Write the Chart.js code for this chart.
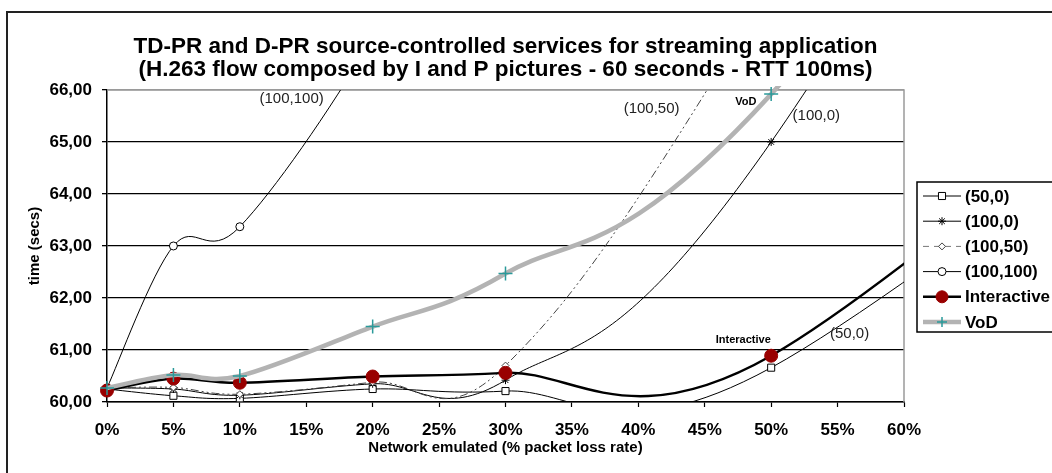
<!DOCTYPE html>
<html>
<head>
<meta charset="utf-8">
<script src="https://cdn.jsdelivr.net/npm/chart.js@4.4.1/dist/chart.umd.min.js"></script>
<style>
html, body { margin: 0; padding: 0; background: #fff; }
#wrap { position: relative; width: 1052px; height: 473px; }
</style>
</head>
<body>
<div id="wrap"><canvas id="lossChart"></canvas></div>
<script>
// packet loss rates (%) - the last point lies off the axis, only its curve is seen
const lossRate = [0, 5, 10, 20, 30, 50, 100];
const interactiveLoss = [0, 5, 10, 20, 30, 50, 95];

const pr50_0 = [60.25, 60.12, 60.07, 60.25, 60.21, 60.66, 70];
const pr100_0 = [60.27, 60.25, 60.13, 60.35, 60.42, 65.00, 86];
const pr100_50 = [60.27, 60.28, 60.15, 60.38, 60.70, 68.0, 90];
const pr100_100 = [60.27, 63.00, 63.37, 67.0, 72, 80];
const interactive = [60.22, 60.45, 60.37, 60.49, 60.56, 60.89, 70];
const vod = [60.27, 60.52, 60.50, 61.45, 62.47, 65.92, 82];

const seriesNames = ['(50,0)', '(100,0)', '(100,50)', '(100,100)', 'Interactive', 'VoD'];
const xTickLabels = ['0%', '5%', '10%', '15%', '20%', '25%', '30%', '35%', '40%', '45%', '50%', '55%', '60%'];
const yTickLabels = ['60,00', '61,00', '62,00', '63,00', '64,00', '65,00', '66,00'];
const titleLines = [
    'TD-PR and D-PR source-controlled services for streaming application',
    '(H.263 flow composed by I and P pictures - 60 seconds - RTT 100ms)'
];

const FONT = "'Liberation Sans', Arial, sans-serif";
Chart.defaults.font.family = FONT;
Chart.defaults.color = '#000';

const pts = (ys, xs) => ys.map((y, i) => ({ x: (xs || lossRate)[i], y: y }));
const clipTight = { left: 10, top: 0, right: 0, bottom: 0 };

// Excel-like smoothing: catmull-rom control points in pixel space
const excelSmooth = {
    id: 'excelSmooth',
    beforeDatasetDraw(chart, args) {
        const line = args.meta.dataset;
        const p = args.meta.data;
        if (!line || p.length < 2) return;
        line.updateControlPoints(chart.chartArea, 'x');
        for (let i = 0; i < p.length; i++) {
            const a = p[Math.max(i - 1, 0)];
            const b = p[Math.min(i + 1, p.length - 1)];
            const dx = (b.x - a.x) / 6, dy = (b.y - a.y) / 6;
            p[i].cp1x = p[i].x - dx; p[i].cp1y = p[i].y - dy;
            p[i].cp2x = p[i].x + dx; p[i].cp2y = p[i].y + dy;
        }
        line._path = undefined;
    }
};

const frame = {
    id: 'frame',
    beforeDraw(chart) {
        const ctx = chart.ctx;
        ctx.save();
        ctx.strokeStyle = '#222';
        ctx.lineWidth = 2;
        ctx.beginPath();
        ctx.moveTo(7, 480); ctx.lineTo(7, 12); ctx.lineTo(1060, 12);
        ctx.stroke();
        ctx.restore();
    },
    beforeDatasetsDraw(chart) {
        const a = chart.chartArea, ctx = chart.ctx;
        ctx.save();
        ctx.strokeStyle = '#9a9a9a';
        ctx.lineWidth = 1.5;
        ctx.beginPath();
        ctx.moveTo(a.left, a.top); ctx.lineTo(a.right, a.top); ctx.lineTo(a.right, a.bottom);
        ctx.stroke();
        ctx.restore();
    }
};

// text placed next to the curves
const curveText = {
    id: 'curveText',
    afterDatasetsDraw(chart) {
        const ctx = chart.ctx, x = chart.scales.x, y = chart.scales.y;
        const notes = [
            ['(100,100)', 13.9, 65.83, '15px ' + FONT],
            ['(100,50)', 41.0, 65.63, '15px ' + FONT],
            ['VoD', 48.1, 65.77, 'bold 11px ' + FONT],
            ['(100,0)', 53.4, 65.5, '15px ' + FONT],
            ['Interactive', 47.9, 61.19, 'bold 11px ' + FONT],
            ['(50,0)', 55.9, 61.31, '15px ' + FONT]
        ];
        ctx.save();
        ctx.textAlign = 'center';
        ctx.textBaseline = 'middle';
        notes.forEach(n => {
            ctx.font = n[3];
            ctx.fillStyle = n[3].indexOf('bold') === 0 ? '#000' : '#222';
            ctx.fillText(n[0], x.getPixelForValue(n[1]), y.getPixelForValue(n[2]));
        });
        ctx.restore();
    }
};

const legendBox = {
    id: 'legendBox',
    afterDraw(chart) {
        const ctx = chart.ctx;
        const left = 917, top = 182, rowH = 25.2;
        ctx.save();
        ctx.strokeStyle = '#000';
        ctx.lineWidth = 1.5;
        ctx.strokeRect(left, top, 200, 150);
        seriesNames.forEach((name, i) => {
            const ds = chart.data.datasets[i];
            const y = top + 14 + i * rowH;
            ctx.beginPath();
            ctx.setLineDash(i === 2 ? [6, 5] : []);
            ctx.strokeStyle = i === 2 ? '#777' : ds.borderColor;
            ctx.lineWidth = ds.borderWidth;
            ctx.moveTo(923, y); ctx.lineTo(961, y);
            ctx.stroke();
            ctx.setLineDash([]);
            ctx.fillStyle = ds.pointBackgroundColor;
            ctx.strokeStyle = ds.pointBorderColor;
            ctx.lineWidth = ds.pointBorderWidth;
            const r = i === 5 ? 5 : (i === 4 ? 6 : ds.pointRadius);
            Chart.helpers.drawPoint(ctx, { pointStyle: ds.pointStyle, rotation: 0, radius: r, borderWidth: ds.pointBorderWidth }, 942, y);
            ctx.fillStyle = '#000';
            ctx.font = 'bold 17px ' + FONT;
            ctx.textBaseline = 'middle';
            ctx.fillText(name, 965, y + 1);
        });
        ctx.restore();
    }
};

new Chart(document.getElementById('lossChart'), {
    type: 'line',
    data: {
        datasets: [
            {
                label: seriesNames[0], data: pts(pr50_0), order: 5,
                borderColor: '#000', borderWidth: 1,
                pointStyle: 'rect', pointRadius: 5, pointBackgroundColor: '#fff',
                pointBorderColor: '#000', pointBorderWidth: 1, clip: clipTight
            },
            {
                label: seriesNames[1], data: pts(pr100_0), order: 4,
                borderColor: '#000', borderWidth: 1,
                pointStyle: 'star', pointRadius: 4, pointBackgroundColor: '#000',
                pointBorderColor: '#000', pointBorderWidth: 1, clip: clipTight
            },
            {
                label: seriesNames[2], data: pts(pr100_50), order: 3,
                borderColor: '#444', borderWidth: 1, borderDash: [8, 3, 2, 3, 2, 3],
                pointStyle: 'rectRot', pointRadius: 3.5, pointBackgroundColor: '#fff',
                pointBorderColor: '#444', pointBorderWidth: 1, clip: clipTight
            },
            {
                label: seriesNames[3], data: pts(pr100_100), order: 2,
                borderColor: '#000', borderWidth: 1,
                pointStyle: 'circle', pointRadius: 4, pointBackgroundColor: '#fff',
                pointBorderColor: '#000', pointBorderWidth: 1, clip: clipTight
            },
            {
                label: seriesNames[4], data: pts(interactive, interactiveLoss), order: 1,
                borderColor: '#000', borderWidth: 2.5,
                pointStyle: 'circle', pointRadius: 6.5, pointBackgroundColor: '#990000',
                pointBorderColor: '#990000', pointBorderWidth: 1, clip: clipTight
            },
            {
                label: seriesNames[5], data: pts(vod), order: 0,
                borderColor: '#b3b3b3', borderWidth: 4.5,
                pointStyle: 'cross', pointRadius: 7, pointBackgroundColor: '#2a9a9a',
                pointBorderColor: '#2a9a9a', pointBorderWidth: 1.5,
                clip: { left: 10, top: 4, right: 0, bottom: 0 }
            }
        ]
    },
    options: {
        responsive: true,
        maintainAspectRatio: false,
        animation: false,
        events: [],
        elements: { line: { tension: 0.3 } },
        layout: { padding: { left: 8, right: 148, top: 0, bottom: 10 } },
        plugins: {
            legend: { display: false },
            tooltip: { enabled: false },
            title: {
                display: true, text: titleLines, fullSize: false, color: '#000',
                font: { size: 22.5, weight: 'bold', lineHeight: 1.03 },
                padding: { top: 35.4, bottom: 8.2 }
            }
        },
        scales: {
            x: {
                type: 'linear', min: 0, max: 60,
                afterFit: s => { s.height = 61; },
                ticks: {
                    stepSize: 5, padding: 13, maxRotation: 0, autoSkip: false,
                    font: { size: 17, weight: 'bold' },
                    callback: (v) => xTickLabels[Math.round(v / 5)]
                },
                grid: { drawOnChartArea: false, tickLength: 5, tickColor: '#000', tickWidth: 1.2 },
                border: { color: '#000', width: 1.5 },
                title: {
                    display: true, text: 'Network emulated (% packet loss rate)',
                    font: { size: 15, weight: 'bold' }, padding: { top: 0, bottom: 6.5 }
                }
            },
            y: {
                min: 60, max: 66,
                afterFit: s => { s.width = 99; },
                ticks: {
                    stepSize: 1, padding: 10,
                    font: { size: 17, weight: 'bold' },
                    callback: (v) => yTickLabels[Math.round(v - 60)]
                },
                grid: {
                    tickLength: 5, tickColor: '#000', lineWidth: 1.3,
                    color: c => (c.tick && c.tick.value === 66 ? '#9a9a9a' : '#000')
                },
                border: { color: '#000', width: 1.5 },
                title: {
                    display: true, text: 'time (secs)',
                    font: { size: 15, weight: 'bold' }, padding: { top: 17.5, bottom: 0 }
                }
            }
        }
    },
    plugins: [excelSmooth, frame, curveText, legendBox]
});
</script>
</body>
</html>
